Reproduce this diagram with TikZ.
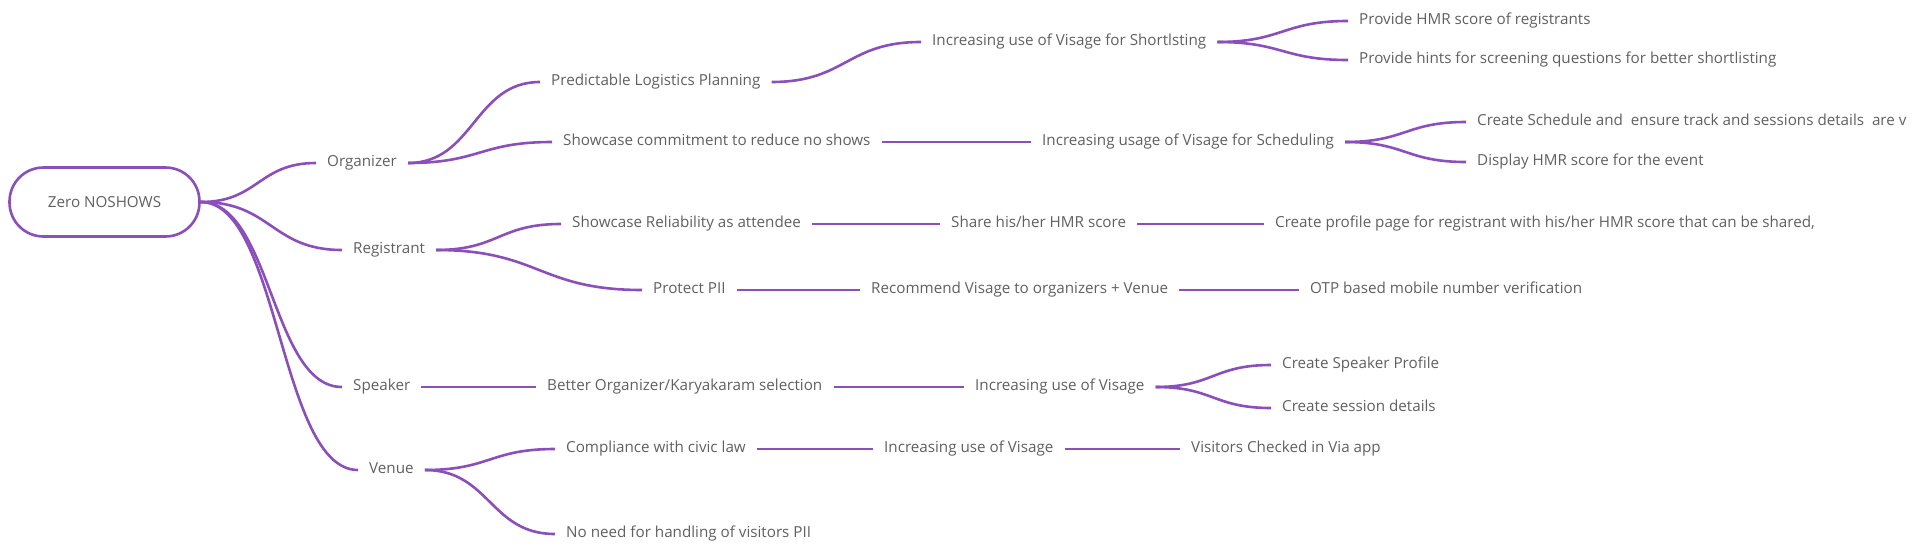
\documentclass[tikz,border=0pt]{standalone}
\usepackage{fontspec}
\setmainfont{Open Sans}
\usetikzlibrary{calc}
\definecolor{lnc}{HTML}{8A4FBA}
\definecolor{txc}{HTML}{606060}
\begin{document}
\begin{tikzpicture}[x=1pt,y=-1pt,
  lbl/.style={anchor=west,inner xsep=11pt,inner ysep=2pt,text height=11pt,text depth=4pt,text=txc,font=\fontsize{15.2}{18}\selectfont},
  rootbox/.style={draw=lnc,line width=2.6pt,rounded corners=34pt,minimum width=190pt,minimum height=69pt,text=txc,font=\fontsize{15.2}{18}\selectfont},
  conn/.style={draw=lnc,line width=2.6pt},
  scurve/.style={to path={let \p1=(\tikztostart), \p2=(\tikztotarget) in .. controls ({(\x1+\x2)/2},\y1) and ({(\x1+\x2)/2},\y2) .. (\tikztotarget)}}
]
\useasboundingbox (0,0) rectangle (1920,554);
\node[rootbox] (root) at (104.5,202) {Zero NOSHOWS};
% level 1
\node[lbl] (org) at (316,163) {Organizer};
\node[lbl] (reg) at (342,250) {Registrant};
\node[lbl] (spk) at (342,387) {Speaker};
\node[lbl] (ven) at (358,470) {Venue};
% organizer
\node[lbl] (plp) at (540,82) {Predictable Logistics Planning};
\node[lbl] (scr) at (552,142) {Showcase commitment to reduce no shows};
\node[lbl] (ius) at (921,42) {Increasing use of Visage for Shortlsting};
\node[lbl] (phs) at (1348,21) {Provide HMR score of registrants};
\node[lbl] (phn) at (1348,60) {Provide hints for screening questions for better shortlisting};
\node[lbl] (ivs) at (1031,142) {Increasing usage of Visage for Scheduling};
\node[lbl] (csc) at (1466,122) {Create Schedule and\ \ ensure track and sessions details\ \ are v};
\node[lbl] (dhs) at (1466,162) {Display HMR score for the event};
% registrant
\node[lbl] (sra) at (561,224) {Showcase Reliability as attendee};
\node[lbl] (shs) at (940,224) {Share his/her HMR score};
\node[lbl] (cpp) at (1264,224) {Create profile page for registrant with his/her HMR score that can be shared,};
\node[lbl] (ppi) at (642,290) {Protect PII};
\node[lbl] (rvo) at (860,290) {Recommend Visage to organizers + Venue};
\node[lbl] (otp) at (1299,290) {OTP based mobile number verification};
% speaker
\node[lbl] (bok) at (536,387) {Better Organizer/Karyakaram selection};
\node[lbl] (iuv) at (964,387) {Increasing use of Visage};
\node[lbl] (csp) at (1271,365) {Create Speaker Profile};
\node[lbl] (csd) at (1271,408) {Create session details};
% venue
\node[lbl] (ccl) at (555,449) {Compliance with civic law};
\node[lbl] (iuw) at (873,449) {Increasing use of Visage};
\node[lbl] (vci) at (1180,449) {Visitors Checked in Via app};
\node[lbl] (nnh) at (555,534) {No need for handling of visitors PII};
% connectors
\foreach \a/\b in {root/org,root/reg,root/spk,root/ven,
  org/plp,org/scr,plp/ius,ius/phs,ius/phn,scr/ivs,ivs/csc,ivs/dhs,
  reg/sra,reg/ppi,sra/shs,shs/cpp,ppi/rvo,rvo/otp,
  spk/bok,bok/iuv,iuv/csp,iuv/csd,
  ven/ccl,ven/nnh,ccl/iuw,iuw/vci}
  \draw[conn] (\a.east) to[scurve] (\b.west);
\end{tikzpicture}
\end{document}
